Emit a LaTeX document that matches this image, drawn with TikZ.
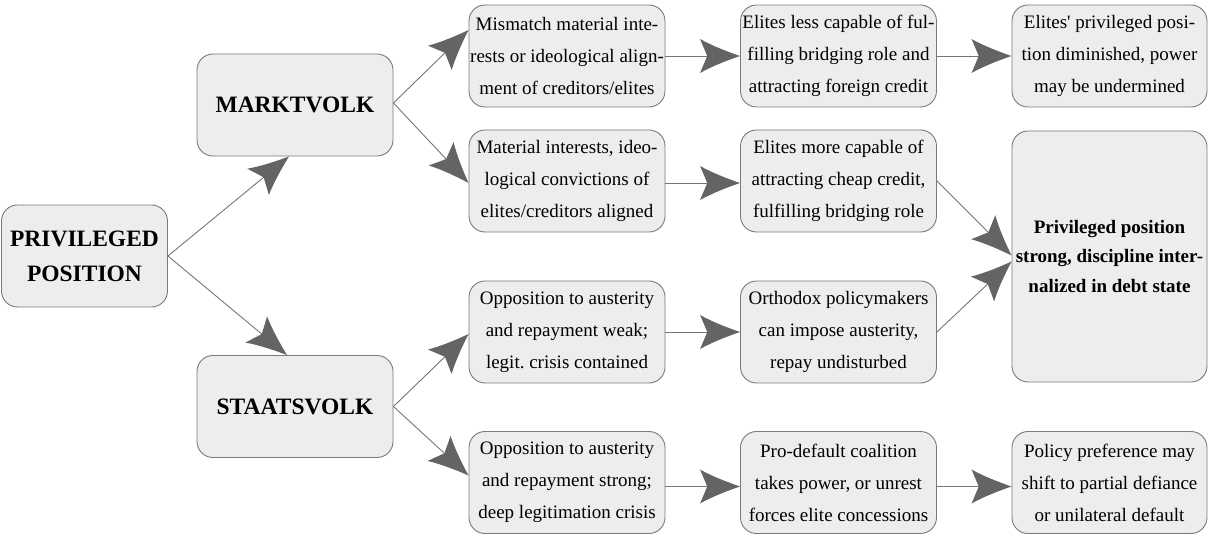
\documentclass[tikz,border=0pt]{standalone}
\usepackage{fontspec}
\setmainfont{Liberation Serif}
\usetikzlibrary{arrows.meta}
\definecolor{boxfill}{HTML}{EDEDED}
\definecolor{boxline}{HTML}{7A7A7A}
\definecolor{linkline}{HTML}{767676}
\definecolor{headfill}{HTML}{646464}

% filled arrow tip with concave flanks and a notched back
\pgfdeclarearrow{
  name = Vane,
  parameters = {\the\pgfarrowlength,\the\pgfarrowwidth},
  setup code = {
    \pgfarrowssettipend{0pt}
    \pgfarrowssetlineend{-0.7\pgfarrowlength}
    \pgfarrowssetvisualbackend{-0.8\pgfarrowlength}
    \pgfarrowssetbackend{-\pgfarrowlength}
    \pgfarrowshullpoint{0pt}{0pt}
    \pgfarrowshullpoint{-\pgfarrowlength}{0.5\pgfarrowwidth}
    \pgfarrowshullpoint{-\pgfarrowlength}{-0.5\pgfarrowwidth}
    \pgfarrowssavethe\pgfarrowlength
    \pgfarrowssavethe\pgfarrowwidth
  },
  drawing code = {
    \pgfpathmoveto{\pgfqpoint{0pt}{0pt}}
    \pgfpathcurveto{\pgfqpoint{-0.3\pgfarrowlength}{0.12\pgfarrowwidth}}
                   {\pgfqpoint{-0.7\pgfarrowlength}{0.3\pgfarrowwidth}}
                   {\pgfqpoint{-\pgfarrowlength}{0.5\pgfarrowwidth}}
    \pgfpathlineto{\pgfqpoint{-0.82\pgfarrowlength}{0pt}}
    \pgfpathlineto{\pgfqpoint{-\pgfarrowlength}{-0.5\pgfarrowwidth}}
    \pgfpathcurveto{\pgfqpoint{-0.7\pgfarrowlength}{-0.3\pgfarrowwidth}}
                   {\pgfqpoint{-0.3\pgfarrowlength}{-0.12\pgfarrowwidth}}
                   {\pgfqpoint{0pt}{0pt}}
    \pgfpathclose
    \pgfusepathqfill
  },
  defaults = {length = 40pt, width = 34pt}
}

\frenchspacing
\begin{document}
\begin{tikzpicture}[x=1pt,y=-1pt,
  box/.style={draw=boxline, fill=boxfill, line width=0.9pt, rounded corners=16pt,
    minimum width=196pt, minimum height=102pt, inner sep=0pt, align=center,
    font=\fontsize{19}{32}\selectfont},
  headbox/.style={box, font=\fontsize{23.5}{35}\selectfont\bfseries},
  link/.style={draw=linkline, line width=0.9pt,
    -{Vane[length=40pt, width=34pt, color=headfill]}}
]
\useasboundingbox (0,0) rectangle (1208,534);

% root and the two branches
\node[headbox, minimum width=166pt] (pp) at (84.5,256) {PRIVILEGED\\POSITION};
\node[headbox] (mk) at (295,105) {MARKTVOLK};
\node[headbox] (st) at (295,406.5) {STAATSVOLK};

% second column
\node[box] (r1a) at (567,56) {Mismatch material inte-\\rests or ideological align-\\ment of creditors/elites};
\node[box] (r2a) at (567,181) {Material interests, ideo-\\logical convictions of\\elites/creditors aligned};
\node[box] (r3a) at (567,332) {Opposition to austerity\\and repayment weak;\\legit. crisis contained};
\node[box] (r4a) at (567,482.5) {Opposition to austerity\\and repayment strong;\\deep legitimation crisis};

% third column
\node[box] (r1b) at (838.5,56) {Elites less capable of ful-\\filling bridging role and\\attracting foreign credit};
\node[box] (r2b) at (838.5,181) {Elites more capable of\\attracting cheap credit,\\fulfilling bridging role};
\node[box] (r3b) at (838.5,332) {Orthodox policymakers\\can impose austerity,\\repay undisturbed};
\node[box] (r4b) at (838.5,482.5) {Pro-default coalition\\takes power, or unrest\\forces elite concessions};

% outcomes
\node[box, minimum width=195pt] (r1c) at (1109.5,56) {Elites\textquotesingle{} privileged posi-\\tion diminished, power\\may be undermined};
\node[box, minimum width=195pt, minimum height=251pt,
      font=\fontsize{19}{29.5}\selectfont\bfseries] (big) at (1109.5,256.5)
      {Privileged position\\strong, discipline inter-\\nalized in debt state};
\node[box, minimum width=195pt] (r4c) at (1109.5,482.5) {Policy preference may\\shift to partial defiance\\or unilateral default};

% connectors
\draw[link] (pp.east) -- ([xshift=-6pt]mk.south);
\draw[link] (pp.east) -- ([xshift=-8pt]st.north);
\draw[link] ([yshift=2pt]mk.east) -- ([yshift=26pt]r1a.west);
\draw[link] ([yshift=2pt]mk.east) -- ([yshift=-2pt]r2a.west);
\draw[link] (st.east) -- ([yshift=-2pt]r3a.west);
\draw[link] (st.east) -- ([yshift=7pt]r4a.west);

\draw[link] (r1a.east) -- (r1b.west);
\draw[link] ([yshift=-2pt]r2a.east) -- ([yshift=-2pt]r2b.west);
\draw[link] (r3a.east) -- (r3b.west);
\draw[link] ([yshift=-4pt]r4a.east) -- ([yshift=-4pt]r4b.west);

\draw[link] (r1b.east) -- (r1c.west);
\draw[link] (r2b.east) -- ([yshift=1pt]big.west);
\draw[link] (r3b.east) -- ([yshift=-5pt]big.west);
\draw[link] ([yshift=-4pt]r4b.east) -- ([yshift=-4pt]r4c.west);
\end{tikzpicture}
\end{document}
